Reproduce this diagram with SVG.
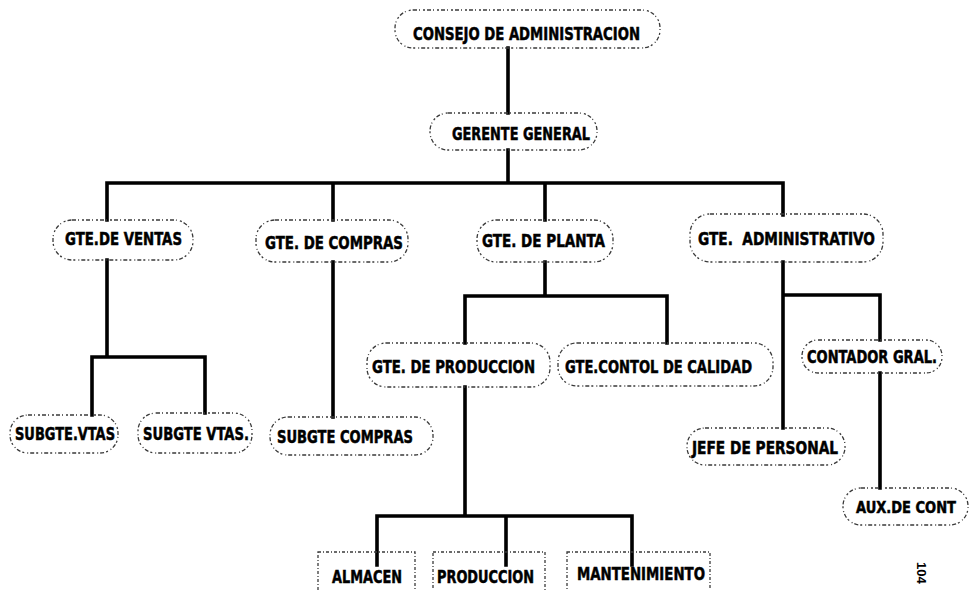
<svg xmlns="http://www.w3.org/2000/svg" width="974" height="590" viewBox="0 0 974 590">
<style>
.bg{fill:#fff}
.pill{fill:none;stroke:#3a3a3a;stroke-width:1.3;stroke-dasharray:4 2 1 3 2 2}
.sq{fill:none;stroke:#3a3a3a;stroke-width:1.3;stroke-dasharray:3 2 1 2}
.lbl{font-family:"DejaVu Sans Condensed","DejaVu Sans",sans-serif;font-weight:bold;font-size:18px;fill:#000;stroke:#000;stroke-width:0.5;white-space:pre}
.con{fill:none;stroke:#000;stroke-width:3.6;stroke-linecap:square;stroke-linejoin:miter}
.pg{font-family:"Liberation Sans",Arial,sans-serif;font-weight:bold;font-size:13px;fill:#000}
</style>
<rect class="bg" x="0" y="0" width="974" height="590"/>
<g id="connectors">
<path class="con" d="M508 48V113M508 150V183M107 183H783M107 183V220M333 183V220M545 183V220M783 183V215"/>
<path class="con" d="M107 260V357M92 357H205M92 357V415M205 357V413"/>
<path class="con" d="M333 262V417"/>
<path class="con" d="M545 262V296M465 296H667M465 296V343M667 296V343"/>
<path class="con" d="M465 387V516M377 516H632M377 516V565M506 516V565M632 516V565"/>
<path class="con" d="M783 262V428M783 295H880M880 295V340M880 373V488"/>
</g>
<g id="consejo"><rect class="pill" x="395" y="10" width="265" height="38" rx="18"/><text class="lbl" x="413" y="40" textLength="227" lengthAdjust="spacingAndGlyphs">CONSEJO DE ADMINISTRACION</text></g>
<g id="gerente"><rect class="pill" x="430" y="113" width="167" height="37" rx="18"/><text class="lbl" x="452" y="140" textLength="138" lengthAdjust="spacingAndGlyphs">GERENTE GENERAL</text></g>
<g id="ventas"><rect class="pill" x="53" y="220" width="140" height="40" rx="19"/><text class="lbl" x="65" y="245" textLength="117" lengthAdjust="spacingAndGlyphs">GTE.DE VENTAS</text></g>
<g id="compras"><rect class="pill" x="256" y="220" width="152" height="42" rx="19"/><text class="lbl" x="265" y="249" textLength="138" lengthAdjust="spacingAndGlyphs">GTE. DE COMPRAS</text></g>
<g id="planta"><rect class="pill" x="477" y="220" width="136" height="42" rx="19"/><text class="lbl" x="482" y="247" textLength="123" lengthAdjust="spacingAndGlyphs">GTE. DE PLANTA</text></g>
<g id="administrativo"><rect class="pill" x="690" y="214" width="193" height="48" rx="20"/><text class="lbl" x="698" y="245" textLength="177" lengthAdjust="spacingAndGlyphs">GTE.  ADMINISTRATIVO</text></g>
<g id="subgte-vtas-1"><rect class="pill" x="10" y="415" width="108" height="38" rx="18"/><text class="lbl" x="15" y="440" textLength="100" lengthAdjust="spacingAndGlyphs">SUBGTE.VTAS</text></g>
<g id="subgte-vtas-2"><rect class="pill" x="138" y="413" width="114" height="40" rx="18"/><text class="lbl" x="143" y="440" textLength="106" lengthAdjust="spacingAndGlyphs">SUBGTE VTAS.</text></g>
<g id="subgte-compras"><rect class="pill" x="270" y="417" width="163" height="38" rx="18"/><text class="lbl" x="277" y="443" textLength="136" lengthAdjust="spacingAndGlyphs">SUBGTE COMPRAS</text></g>
<g id="gte-produccion"><rect class="pill" x="367" y="343" width="183" height="44" rx="19"/><text class="lbl" x="372" y="373" textLength="163" lengthAdjust="spacingAndGlyphs">GTE. DE PRODUCCION</text></g>
<g id="gte-calidad"><rect class="pill" x="558" y="343" width="215" height="43" rx="19"/><text class="lbl" x="565" y="373" textLength="187" lengthAdjust="spacingAndGlyphs">GTE.CONTOL DE CALIDAD</text></g>
<g id="contador"><rect class="pill" x="802" y="340" width="140" height="33" rx="16"/><text class="lbl" x="807" y="363" textLength="130" lengthAdjust="spacingAndGlyphs">CONTADOR GRAL.</text></g>
<g id="jefe-personal"><rect class="pill" x="687" y="428" width="158" height="37" rx="18"/><text class="lbl" x="692" y="454" textLength="146" lengthAdjust="spacingAndGlyphs">JEFE DE PERSONAL</text></g>
<g id="aux-cont"><rect class="pill" x="843" y="488" width="125" height="37" rx="18"/><text class="lbl" x="856" y="513" font-size="16.5" style="font-size:16.5px" textLength="100" lengthAdjust="spacingAndGlyphs">AUX.DE CONT</text></g>
<g id="almacen"><rect class="sq" x="318" y="552" width="97" height="50"/><text class="lbl" x="332" y="583" textLength="70" lengthAdjust="spacingAndGlyphs">ALMACEN</text></g>
<g id="produccion"><rect class="sq" x="433" y="552" width="112" height="50"/><text class="lbl" x="437" y="583" textLength="97" lengthAdjust="spacingAndGlyphs">PRODUCCION</text></g>
<g id="mantenimiento"><rect class="sq" x="567" y="552" width="143" height="50"/><text class="lbl" x="577" y="580" textLength="128" lengthAdjust="spacingAndGlyphs">MANTENIMIENTO</text></g>
<text class="pg" transform="translate(917,562) rotate(90)">104</text>
</svg>
